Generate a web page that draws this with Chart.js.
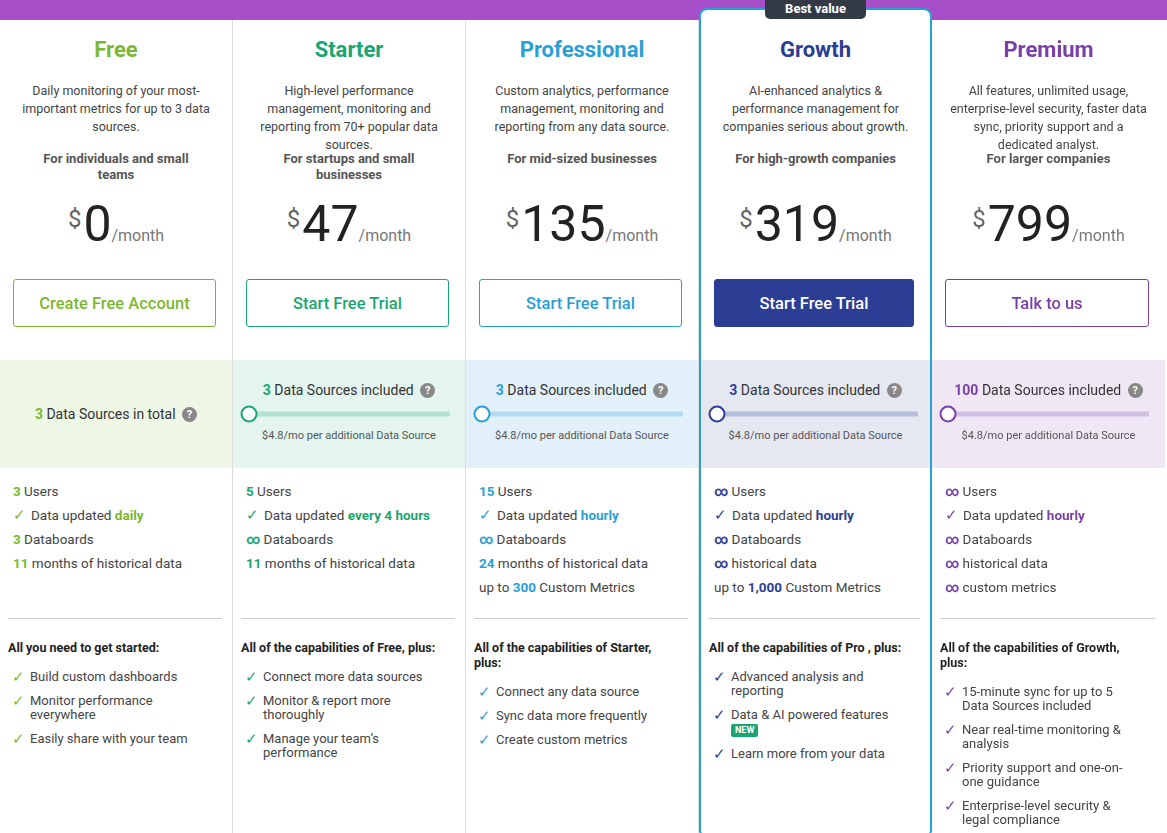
<!DOCTYPE html>
<html><head><meta charset="utf-8">
<script src="https://cdn.jsdelivr.net/npm/chart.js@4"></script>
<style>
body{margin:0;width:1167px;height:833px;overflow:hidden;font-family:Roboto,"Open Sans",sans-serif;color:#333;background:linear-gradient(#a74fc9,#a74fc9) top/100% 20px no-repeat,#fff}
.wrap{display:flex;position:relative;top:20px}
.col{--o:0px;width:233px;height:813px;background:#fff;border-right:1px solid #ddd;position:relative;box-sizing:border-box}
.col>*{position:absolute;left:0;right:0}
.col:first-child{border-top-left-radius:10px}.col:last-child{border-right:none;border-top-right-radius:10px}
.col.best{--o:10px;border:2px solid #2a9fd6;border-radius:8px;margin-top:-12px;height:830px}
.tag{top:-10px;left:64px!important;right:64px!important;text-align:center;background:#333a45;color:#fff;font-size:13px;font-weight:bold;padding:1px 0 3px;border-radius:0 0 5px 5px}
h2{margin:0;top:calc(var(--o) + 17px);text-align:center;font-size:22px}
.desc{font-size:12.5px;text-align:center;top:calc(var(--o) + 62px);padding:0 18px;line-height:18px;color:#444}
.for{font-size:13px;font-weight:bold;text-align:center;color:#555;top:calc(var(--o) + 131px);padding:0 26px;line-height:16px}
.price{text-align:center;top:calc(var(--o) + 169px);font-size:50px;color:#222;line-height:60px}
.price small{font-size:24px;color:#666;vertical-align:14px;margin-right:2px}.price span{font-size:16px;color:#777}
.btn{top:calc(var(--o) + 259px);left:13px;right:16px;height:46px;border:1px solid;border-radius:3px;display:flex;align-items:center;justify-content:center;font-size:16.5px;font-weight:500}
.band{top:calc(var(--o) + 340px);height:108px;text-align:center;font-size:14px}
.band .t{margin-top:21px;line-height:18px}.band canvas{display:block}
.q{display:inline-block;width:15px;height:15px;border-radius:50%;background:#888;color:#fff;font-size:11px;line-height:15px;font-weight:bold;vertical-align:1px;margin-left:3px}
.add{font-size:11px;color:#555;margin-top:0}
.feat{top:calc(var(--o) + 459px);left:13px;right:12px;font-size:13.5px;line-height:24px;color:#444}
.feat b{font-weight:bold}
hr{border:none;border-top:1px solid #ccc;margin:0}
.cap{top:calc(var(--o) + 598px);left:8px;right:10px}
.cap h4{margin:21px 0 15px;font-size:12.5px;color:#222;line-height:15px;padding-right:8px}
.cap div{font-size:13px;line-height:14px;color:#444;padding-left:22px;padding-right:30px;position:relative;margin-bottom:10px}
.cap div:before,.feat .ck:before{content:"\2713";position:absolute;left:4px;font-size:15px}
.feat .ck{position:relative;padding-left:18px}.feat .ck:before{left:0}
.new{display:inline-block;background:#1aa672;color:#fff;font-size:9px;font-weight:bold;padding:0 4px;line-height:13px;border-radius:2px}
</style></head><body>
<div class="wrap" id="wrap"></div>
<script>
const plans=['Free','Starter','Professional','Growth','Premium'];
const prices=[0,47,135,319,799];
const colors=['#7cb82f','#1aa672','#2a9fd6','#2c3e94','#7b3fa8'];
const bands=['#eef6e6','#e3f5ee','#e2f1f9','#e6e8f1','#efe8f4'];
const sources=[3,3,3,3,100];
const extraPrice=4.8;
const sliderMax=[null,100,100,100,300];
const buttons=['Create Free Account','Start Free Trial','Start Free Trial','Start Free Trial','Talk to us'];
const descs=['Daily monitoring of your most-important metrics for up to 3 data sources.','High-level performance management, monitoring and reporting from 70+ popular data sources.','Custom analytics, performance management, monitoring and reporting from any data source.','AI-enhanced analytics &amp; performance management for companies serious about growth.','All features, unlimited usage, enterprise-level security, faster data sync, priority support and a dedicated analyst.'];
const fors=['For individuals and small teams','For startups and small businesses','For mid-sized businesses','For high-growth companies','For larger companies'];
const inf='<b style="letter-spacing:-3px">&infin;</b>&nbsp;';
const feats=[
 ['<b>3</b> Users','✓Data updated <b>daily</b>','<b>3</b> Databoards','<b>11</b> months of historical data'],
 ['<b>5</b> Users','✓Data updated <b>every 4 hours</b>',inf+'Databoards','<b>11</b> months of historical data'],
 ['<b>15</b> Users','✓Data updated <b>hourly</b>',inf+'Databoards','<b>24</b> months of historical data','up to <b>300</b> Custom Metrics'],
 [inf+'Users','✓Data updated <b>hourly</b>',inf+'Databoards',inf+'historical data','up to <b>1,000</b> Custom Metrics'],
 [inf+'Users','✓Data updated <b>hourly</b>',inf+'Databoards',inf+'historical data',inf+'custom metrics']];
const caps=[
 ['All you need to get started:',['Build custom dashboards','Monitor performance everywhere','Easily share with your team']],
 ['All of the capabilities of Free, plus:',['Connect more data sources','Monitor &amp; report more thoroughly','Manage your team’s performance']],
 ['All of the capabilities of Starter, plus:',['Connect any data source','Sync data more frequently','Create custom metrics']],
 ['All of the capabilities of Pro , plus:',['Advanced analysis and reporting','Data &amp; AI powered features<br><span class="new">NEW</span>','Learn more from your data']],
 ['All of the capabilities of Growth, plus:',['15-minute sync for up to 5 Data Sources included','Near real-time monitoring &amp; analysis','Priority support and one-on-one guidance','Enterprise-level security &amp; legal compliance']]];
const wrap=document.getElementById('wrap');
plans.forEach((p,i)=>{
 const c=colors[i],d=document.createElement('div');
 d.className='col'+(i===3?' best':'');
 const btn=i===3?`background:${c};color:#fff;border-color:${c}`:`color:${c};border-color:${c}`;
 const band=i===0?`<div style="margin-top:46px"><b style="color:${c}">${sources[i]}</b> Data Sources in total <span class="q">?</span></div>`
  :`<div class="t"><b style="color:${c}">${sources[i]}</b> Data Sources included <span class="q">?</span></div><canvas id="s${i}" width="233" height="30"></canvas><div class="add">$${extraPrice}/mo per additional Data Source</div>`;
 d.innerHTML=(i===3?'<div class="tag">Best value</div>':'')+
  `<h2 style="color:${c}">${p}</h2><div class="desc">${descs[i]}</div><div class="for">${fors[i]}</div>`+
  `<div class="price"><small>$</small>${prices[i]}<span>/month</span></div><div class="btn" style="${btn}">${buttons[i]}</div>`+
  `<div class="band" style="background:${bands[i]}">${band}</div>`+
  `<div class="feat">${feats[i].map(f=>f[0]==='✓'?`<div class="ck">${f.slice(1).replace(/<b>/g,`<b style="color:${c}">`)}</div>`:`<div>${f.replace(/<b/g,`<b style="color:${c}"`)}</div>`).join('')}</div>`+
  `<div class="cap"><hr><h4>${caps[i][0]}</h4>${caps[i][1].map(x=>`<div>${x}</div>`).join('')}</div>`;
 wrap.appendChild(d);
 const st=document.createElement('style');
 st.textContent=`.col:nth-child(${i+1}) .ck:before,.col:nth-child(${i+1}) .cap div:before{color:${c}}`;
 document.head.appendChild(st);
});
// sliders
plans.forEach((p,i)=>{
 if(!sliderMax[i])return;
 new Chart(document.getElementById('s'+i),{
  type:'scatter',
  data:{datasets:[
   {data:[{x:0,y:0}],pointRadius:7.5,pointBackgroundColor:'#fff',pointBorderColor:colors[i],pointBorderWidth:2,order:0,clip:false},
   {data:[{x:0,y:0},{x:sliderMax[i],y:0}],showLine:true,borderColor:colors[i]+'40',borderWidth:5,pointRadius:0,order:1,clip:false}]},
  options:{responsive:false,animation:false,layout:{padding:{left:16,right:16,top:0,bottom:0}},
   plugins:{legend:{display:false},tooltip:{enabled:false}},
   scales:{x:{display:false,min:0,max:sliderMax[i]},y:{display:false,min:-1,max:1}}}
 });
});
</script></body></html>
